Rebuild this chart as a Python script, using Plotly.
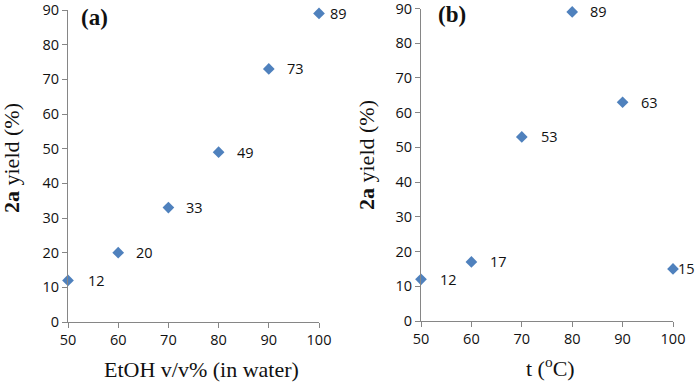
import plotly.graph_objects as go

# Data
etoh_pct = [50, 60, 70, 80, 90, 100]
yield_a = [12, 20, 33, 49, 73, 89]
temp_c = [50, 60, 70, 80, 90, 100]
yield_b = [12, 17, 53, 89, 63, 15]
x_ticks = [50, 60, 70, 80, 90, 100]
y_ticks = [0, 10, 20, 30, 40, 50, 60, 70, 80, 90]

# style
W, H = 700, 382
MARKER_COLOR = "#4F81BD"
AXIS_COLOR = "#868686"
TICK_FONT = dict(family="Open Sans, Liberation Sans, sans-serif", size=14.5, color="#111111")
SERIF = "Liberation Serif, Times New Roman, serif"
shift_a = [18, 16, 16, 16, 16, 9]
shift_b = [17, 17, 17, 16, 16, 3]

fig = go.Figure()
fig.add_trace(go.Scatter(x=etoh_pct, y=yield_a, mode="markers",
                         marker=dict(symbol="diamond", size=9, color=MARKER_COLOR),
                         xaxis="x", yaxis="y", cliponaxis=False, showlegend=False))
fig.add_trace(go.Scatter(x=temp_c, y=yield_b, mode="markers",
                         marker=dict(symbol="diamond", size=9, color=MARKER_COLOR),
                         xaxis="x2", yaxis="y2", cliponaxis=False, showlegend=False))

annotations = []
for xv, yv, s in zip(etoh_pct, yield_a, shift_a):
    annotations.append(dict(x=xv, y=yv, xref="x", yref="y", text=str(yv), showarrow=False,
                            xanchor="left", yanchor="middle", xshift=s, font=TICK_FONT))
for xv, yv, s in zip(temp_c, yield_b, shift_b):
    annotations.append(dict(x=xv, y=yv, xref="x2", yref="y2", text=str(yv), showarrow=False,
                            xanchor="left", yanchor="middle", xshift=s, font=TICK_FONT))

def px(x):
    return x / W

def py(y):
    return 1 - y / H

title_font = dict(family=SERIF, size=22, color="#111111")
annotations += [
    dict(text="EtOH v/v% (in water)", x=px(201), y=py(369), xref="paper", yref="paper",
         showarrow=False, xanchor="center", yanchor="middle", font=title_font),
    dict(text="t (<sup>o</sup>C)", x=px(550), y=py(367), xref="paper", yref="paper",
         showarrow=False, xanchor="center", yanchor="middle", font=title_font),
    dict(text="<b>2a</b> yield (%)", x=px(11), y=py(158), xref="paper", yref="paper",
         showarrow=False, xanchor="center", yanchor="middle", textangle=-90, font=title_font),
    dict(text="<b>2a</b> yield (%)", x=px(366), y=py(155), xref="paper", yref="paper",
         showarrow=False, xanchor="center", yanchor="middle", textangle=-90, font=title_font),
    dict(text="<b>(a)</b>", x=px(94), y=py(17), xref="paper", yref="paper",
         showarrow=False, xanchor="center", yanchor="middle",
         font=dict(family=SERIF, size=23, color="#111111")),
    dict(text="<b>(b)</b>", x=px(452), y=py(15), xref="paper", yref="paper",
         showarrow=False, xanchor="center", yanchor="middle",
         font=dict(family=SERIF, size=23, color="#111111")),
]

xax = dict(range=[50, 100], tickvals=x_ticks, showgrid=False, zeroline=False,
           showline=True, linecolor=AXIS_COLOR, linewidth=1, automargin=False,
           ticklabeloverflow="allow",
           ticks="outside", ticklen=5, tickcolor=AXIS_COLOR, tickfont=TICK_FONT)
yax = dict(range=[0, 90], tickvals=y_ticks, showgrid=False, zeroline=False,
           showline=True, linecolor=AXIS_COLOR, linewidth=1, automargin=False,
           ticklabeloverflow="allow",
           ticks="outside", ticklen=5, tickcolor=AXIS_COLOR, tickfont=TICK_FONT)

fig.update_layout(
    width=W, height=H,
    margin=dict(l=0, r=0, t=0, b=0),
    paper_bgcolor="white", plot_bgcolor="white",
    xaxis=dict(xax, domain=[px(68), px(319)], anchor="y"),
    yaxis=dict(yax, domain=[py(322), py(10)], anchor="x"),
    xaxis2=dict(xax, domain=[px(421), px(673)], anchor="y2"),
    yaxis2=dict(yax, domain=[py(321), py(8.5)], anchor="x2"),
    annotations=annotations,
    showlegend=False,
)

fig.write_html("out.html", config={"displayModeBar": False},
               post_script="document.body.style.margin='0';document.body.style.overflow='hidden';")
